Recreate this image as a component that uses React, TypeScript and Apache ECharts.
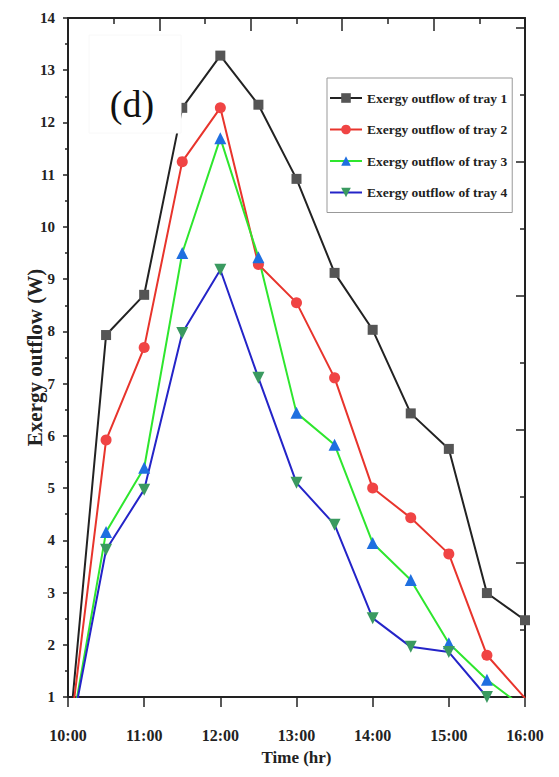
import React, { useEffect, useRef } from "react";
import * as echarts from "echarts";

const hours = [10, 10.5, 11, 11.5, 12, 12.5, 13, 13.5, 14, 14.5, 15, 15.5, 16];
const xTickLabels = ["10:00", "11:00", "12:00", "13:00", "14:00", "15:00", "16:00"];
const seriesNames = [
  "Exergy outflow of tray 1",
  "Exergy outflow of tray 2",
  "Exergy outflow of tray 3",
  "Exergy outflow of tray 4",
];
const tray1 = [0, 7.93, 8.7, 12.28, 13.28, 12.34, 10.92, 9.12, 8.03, 6.43, 5.75, 2.99, 2.47];
const tray2 = [0, 5.92, 7.69, 11.25, 12.28, 9.28, 8.55, 7.11, 5.0, 4.43, 3.74, 1.8, 0.98];
const tray3 = [0, 4.16, 5.39, 9.5, 11.7, 9.42, 6.44, 5.83, 3.95, 3.24, 2.03, 1.33, 0.78];
const tray4 = [0, 3.82, 4.97, 7.97, 9.18, 7.11, 5.1, 4.3, 2.51, 1.96, 1.86, 1.0, 0.6];

const SERIF = '"Liberation Serif", "Times New Roman", serif';

export default function App() {
  const ref = useRef<HTMLDivElement>(null);
  useEffect(() => {
    if (!ref.current) return;
    const chart = echarts.init(ref.current, null, { renderer: "svg" });
    const mk = (
      name: string,
      vals: number[],
      lineColor: string,
      markColor: string,
      symbol: string,
      size: number,
      rotate = 0
    ) => ({
      name,
      type: "line",
      xAxisIndex: 0,
      yAxisIndex: 0,
      data: hours.map((h, i) => [h, vals[i]]),
      symbol,
      symbolSize: size,
      symbolRotate: rotate,
      showAllSymbol: true,
      clip: true,
      lineStyle: { color: lineColor, width: 2 },
      itemStyle: { color: markColor },
      z: 3,
    });
    chart.setOption({
      animation: false,
      backgroundColor: "#ffffff",
      textStyle: { fontFamily: SERIF },
      grid: { left: 68, right: 34, top: 18, bottom: 80, containLabel: false },
      legend: {
        orient: "vertical",
        left: 327,
        top: 78,
        padding: [13, 5, 13, 2],
        itemGap: 17.5,
        itemWidth: 32,
        itemHeight: 12,
        borderColor: "#999",
        borderWidth: 1,
        textStyle: {
          fontFamily: SERIF,
          fontWeight: "bold",
          fontSize: 13.5,
          color: "#222",
          lineHeight: 14,
        },
        data: seriesNames,
      },
      xAxis: [
        {
          type: "value",
          position: "bottom",
          min: 10,
          max: 16,
          interval: 1,
          name: "Time (hr)",
          nameLocation: "middle",
          nameGap: 52,
          nameMoveOverlap: false,
          nameTextStyle: { fontFamily: SERIF, fontWeight: "bold", fontSize: 17, color: "#222" },
          axisLine: { show: true, onZero: false, lineStyle: { color: "#222", width: 2 } },
          axisTick: { show: true, inside: false, length: 10, lineStyle: { color: "#222", width: 1.5 } },
          axisLabel: {
            fontFamily: SERIF,
            fontWeight: "bold",
            fontSize: 16,
            color: "#222",
            margin: 30,
            formatter: (v: number) => xTickLabels[Math.round(v - 10)] ?? "",
          },
          splitLine: { show: false },
        },
        {
          type: "value",
          position: "top",
          min: 0,
          max: 10,
          interval: 2,
          axisLine: { show: true, onZero: false, lineStyle: { color: "#222", width: 2 } },
          axisTick: { show: true, inside: true, length: 13, lineStyle: { color: "#222", width: 1.5 } },
          minorTick: { show: true, splitNumber: 2, length: 6, lineStyle: { color: "#222", width: 1.5 } },
          axisLabel: { show: false },
          splitLine: { show: false },
        },
      ],
      yAxis: [
        {
          type: "value",
          position: "left",
          min: 1,
          max: 14,
          interval: 1,
          name: "Exergy outflow (W)",
          nameLocation: "middle",
          nameGap: 23,
          nameMoveOverlap: false,
          nameTextStyle: { fontFamily: SERIF, fontWeight: "bold", fontSize: 21, color: "#222" },
          axisLine: { show: true, onZero: false, lineStyle: { color: "#222", width: 2 } },
          axisTick: { show: true, inside: false, length: 5, lineStyle: { color: "#222", width: 1.5 } },
          minorTick: { show: true, splitNumber: 2, length: 3, lineStyle: { color: "#222", width: 1.5 } },
          axisLabel: { fontFamily: SERIF, fontWeight: "bold", fontSize: 15, color: "#222", margin: 13 },
          splitLine: { show: false },
        },
        {
          type: "value",
          position: "right",
          min: 0,
          max: 10.15,
          interval: 2,
          axisLine: { show: true, onZero: false, lineStyle: { color: "#222", width: 2 } },
          axisTick: { show: true, inside: true, length: 9, lineStyle: { color: "#222", width: 1.5 } },
          minorTick: { show: true, splitNumber: 2, length: 5, lineStyle: { color: "#222", width: 1.5 } },
          axisLabel: { show: false },
          splitLine: { show: false },
        },
      ],
      graphic: [
        {
          type: "rect",
          z: 100,
          shape: { x: 89, y: 35, width: 92, height: 98 },
          style: { fill: "#ffffff", stroke: "#f8f8f8", lineWidth: 1 },
        },
        {
          type: "text",
          z: 101,
          x: 132,
          y: 104,
          style: {
            text: "(d)",
            fontFamily: SERIF,
            fontSize: 38,
            fill: "#111",
            textAlign: "center",
            textVerticalAlign: "middle",
          },
        },
      ],
      series: [
        mk(seriesNames[0], tray1, "#222222", "#555555", "rect", 10),
        mk(seriesNames[1], tray2, "#e8342c", "#f04444", "circle", 11),
        mk(seriesNames[2], tray3, "#2ee62e", "#1f6fe0", "triangle", 12),
        mk(seriesNames[3], tray4, "#2424c8", "#3a9a60", "triangle", 12, 180),
      ],
    });
    return () => chart.dispose();
  }, []);
  return (
    <div
      ref={ref}
      style={{ position: "fixed", left: 0, top: 0, width: 559, height: 777, background: "#fff" }}
    />
  );
}
